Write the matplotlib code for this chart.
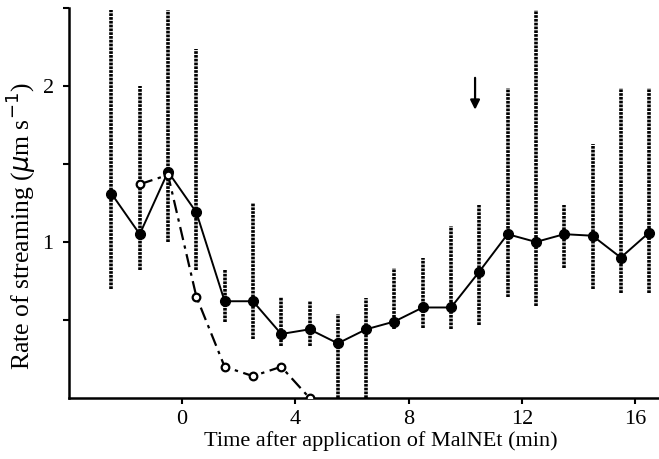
#Rate of streaming after application of MalNEt

import numpy as np
import matplotlib.pyplot as plt

plt.rcParams['font.family'] = ['Liberation Serif', 'DejaVu Serif']

#Filled circles: mean rate with range bars
time_filled = [-2.5, -1.5, -0.5, 0.5, 1.5, 2.5, 3.5, 4.5, 5.5, 6.5,
               7.5, 8.5, 9.5, 10.5, 11.5, 12.5, 13.5, 14.5, 15.5, 16.5]
rate_filled = [1.31, 1.05, 1.45, 1.19, 0.62, 0.62, 0.41, 0.44, 0.35, 0.44,
               0.49, 0.58, 0.58, 0.81, 1.05, 1.00, 1.05, 1.04, 0.90, 1.06]
bar_top = [2.49, 2.00, 2.49, 2.24, 0.82, 1.25, 0.65, 0.62, 0.54, 0.64,
           0.83, 0.90, 1.10, 1.24, 1.99, 2.49, 1.24, 1.63, 1.99, 1.99]
bar_bottom = [0.70, 0.82, 1.00, 0.82, 0.49, 0.38, 0.33, 0.33, 0.0, 0.0,
              0.44, 0.45, 0.44, 0.47, 0.65, 0.59, 0.83, 0.70, 0.67, 0.67]

#Open circles: single cell
time_open = [-1.5, -0.5, 0.5, 1.5, 2.5, 3.5, 4.5]
rate_open = [1.37, 1.43, 0.65, 0.20, 0.14, 0.20, 0.0]

#Arrow marking the time of washing out
arrow_x = 10.35
arrow_top = 2.07
arrow_tip = 1.83

fig = plt.figure(figsize=(6.59, 4.59), dpi=100)
ax = fig.add_axes([0.1047, 0.133, 0.8953, 0.8496])

#dotted range bars
ax.vlines(time_filled, bar_bottom, bar_top, colors='black',
          linestyles=(0, (0.75, 0.3)), linewidth=2.6, zorder=1)

ax.plot(time_filled, rate_filled, color='black', linewidth=1.4,
        marker='o', markersize=7, markerfacecolor='black', zorder=3)
ax.plot(time_open, rate_open, color='black', linewidth=1.6,
        linestyle=(0, (6, 2.5, 1.5, 2.5)), marker='o', markersize=5.5,
        markerfacecolor='white', markeredgewidth=1.6, zorder=4)

ax.annotate('', xy=(arrow_x, arrow_tip), xytext=(arrow_x, arrow_top),
            arrowprops=dict(arrowstyle='-|>', color='black', lw=1.6,
                            mutation_scale=14))

ax.set_xlim(-4, 16.85)
ax.set_ylim(0, 2.5)
ax.set_xticks([0, 4, 8, 12, 16])
ax.set_yticks([0.5, 1, 1.5, 2, 2.5])
ax.set_yticklabels(['', '1', '', '2', ''])

ax.spines['top'].set_visible(False)
ax.spines['right'].set_visible(False)
ax.spines['left'].set_linewidth(1.8)
ax.spines['bottom'].set_linewidth(1.8)
ax.tick_params(direction='out', length=4, width=1.5, labelsize=16)
ax.tick_params(axis='x', pad=5)
ax.tick_params(axis='y', pad=7)

ax.set_xlabel('Time after application of MalNEt (min)', fontsize=16)
ax.set_ylabel(r'Rate of streaming ($\mathit{\mu}$m s$^{-1}$)', fontsize=18.5)
ax.xaxis.set_label_coords(0.529, -0.085)
ax.yaxis.set_label_coords(-0.053, 0.44)

fig.savefig('out.png', dpi=100)
